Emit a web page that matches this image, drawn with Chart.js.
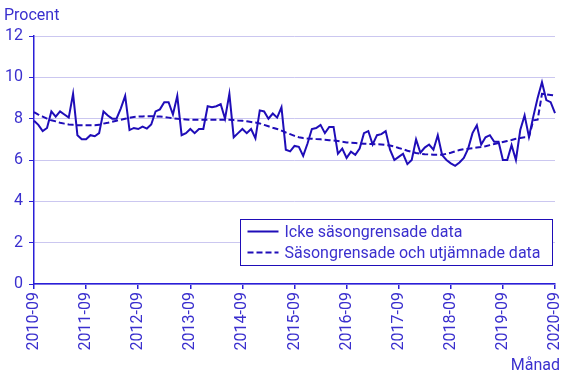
<!DOCTYPE html>
<html><head><meta charset="utf-8">
<script src="https://cdn.jsdelivr.net/npm/chart.js@4/dist/chart.umd.min.js"></script>
<style>html,body{margin:0;padding:0;background:#fff}#wrap{width:567px;height:378px}</style>
</head><body><div id="wrap"><canvas id="c" width="567" height="378"></canvas></div>
<script>
// Categories: months 2010-09 .. 2020-09
const months = [];
for (let y = 2010, m = 9; y < 2020 || (y === 2020 && m <= 9); ) {
  months.push(y + '-' + String(m).padStart(2, '0'));
  m++; if (m > 12) { m = 1; y++; }
}
const seriesNames = ['Icke säsongrensade data', 'Säsongrensade och utjämnade data'];
const rawValues = [
  7.9, 7.7, 7.4, 7.55, 8.35, 8.1, 8.35, 8.2, 8.05, 9.2, 7.2, 7.0,
  7.0, 7.2, 7.15, 7.3, 8.35, 8.15, 8.0, 8.0, 8.5, 9.1, 7.45, 7.55,
  7.5, 7.62, 7.52, 7.72, 8.35, 8.45, 8.8, 8.8, 8.2, 9.1, 7.2, 7.3,
  7.5, 7.3, 7.5, 7.5, 8.6, 8.55, 8.6, 8.7, 8.0, 9.2, 7.1, 7.3,
  7.5, 7.3, 7.5, 7.05, 8.4, 8.35, 8.0, 8.25, 8.05, 8.55, 6.5, 6.42,
  6.68, 6.64, 6.2, 6.8, 7.5, 7.55, 7.7, 7.3, 7.6, 7.6, 6.3, 6.55,
  6.1, 6.4, 6.25, 6.55, 7.3, 7.4, 6.75, 7.2, 7.25, 7.4, 6.5, 6.0,
  6.15, 6.3, 5.8, 6.0, 7.0, 6.35, 6.6, 6.75, 6.5, 7.2, 6.24, 6.0,
  5.84, 5.72, 5.88, 6.1, 6.55, 7.3, 7.68, 6.75, 7.1, 7.2, 6.88, 6.88,
  6.0, 6.0, 6.72, 6.0, 7.45, 8.16, 7.12, 8.1, 9.0, 9.76, 8.9, 8.8, 8.27
];
const smoothValues = [
  8.32, 8.2, 8.1, 8.0, 7.92, 7.87, 7.8, 7.76, 7.72, 7.7, 7.68, 7.68,
  7.68, 7.68, 7.68, 7.7, 7.76, 7.8, 7.85, 7.9, 7.95, 8.0, 8.04, 8.08,
  8.1, 8.11, 8.12, 8.12, 8.11, 8.1, 8.08, 8.05, 8.02, 8.0, 7.97, 7.96,
  7.95, 7.95, 7.95, 7.95, 7.95, 7.95, 7.95, 7.95, 7.95, 7.95, 7.93, 7.91,
  7.9, 7.87, 7.84, 7.81, 7.77, 7.7, 7.63, 7.56, 7.5, 7.42, 7.33, 7.25,
  7.17, 7.1, 7.06, 7.04, 7.03, 7.01, 7.0, 6.98, 6.96, 6.94, 6.92, 6.88,
  6.85, 6.83, 6.82, 6.8, 6.79, 6.78, 6.77, 6.76, 6.75, 6.73, 6.7, 6.65,
  6.58, 6.52, 6.45, 6.39, 6.34, 6.3, 6.28, 6.27, 6.26, 6.26, 6.26, 6.3,
  6.35, 6.42, 6.48, 6.52, 6.55, 6.57, 6.6, 6.63, 6.67, 6.72, 6.77, 6.82,
  6.87, 6.92, 6.97, 7.03, 7.07, 7.1, 7.1, 7.92, 7.95, 9.2, 9.18, 9.15, 9.12
];
const yTicks = [0, 2, 4, 6, 8, 10, 12];
const yTitle = 'Procent';
const xTitle = 'Månad';

const LINE = '#1f0db8', AXIS = '#2a1fd8', TEXT = '#3a2fce', GRID = '#cbc7f0';
const FONT = 'Roboto, "Liberation Sans", Arial, sans-serif';

const overlay = {
  id: 'overlay',
  afterDraw(chart) {
    const ctx = chart.ctx;
    ctx.save();
    ctx.fillStyle = TEXT;
    ctx.font = '16px ' + FONT;
    ctx.textBaseline = 'alphabetic';
    ctx.textAlign = 'left';
    ctx.fillText(yTitle, 4, 20);
    ctx.textAlign = 'right';
    ctx.fillText(xTitle, 560, 370);
    ctx.textAlign = 'left';
    // legend box
    const bx = 240.5, by = 219.5, bw = 312, bh = 46;
    ctx.fillStyle = '#fff';
    ctx.fillRect(bx, by, bw, bh);
    ctx.strokeStyle = LINE; ctx.lineWidth = 1;
    ctx.strokeRect(bx, by, bw, bh);
    chart.data.datasets.forEach((ds, i) => {
      const yy = by + 12 + i * 21;
      ctx.strokeStyle = ds.borderColor; ctx.lineWidth = 2;
      ctx.setLineDash(ds.borderDash || []);
      ctx.beginPath(); ctx.moveTo(bx + 7, yy); ctx.lineTo(bx + 38, yy); ctx.stroke();
      ctx.setLineDash([]);
      ctx.fillStyle = TEXT; ctx.textBaseline = 'middle';
      ctx.fillText(ds.label, bx + 44, yy + 1);
    });
    ctx.restore();
  }
};

new Chart(document.getElementById('c'), {
  type: 'line',
  data: {
    labels: months,
    datasets: [
      { label: seriesNames[0], data: rawValues, borderColor: LINE, borderWidth: 2, pointRadius: 0, tension: 0, fill: false },
      { label: seriesNames[1], data: smoothValues, borderColor: LINE, borderWidth: 2, borderDash: [6, 3], pointRadius: 0, tension: 0, fill: false }
    ]
  },
  options: {
    responsive: false,
    animation: false,
    devicePixelRatio: 1,
    layout: { padding: { left: 0, top: 36, right: 3, bottom: 0 } },
    plugins: { legend: { display: false }, tooltip: { enabled: false }, title: { display: false } },
    scales: {
      x: {
        type: 'category',
        offset: false,
        border: { display: true, color: AXIS, width: 1.5 },
        grid: {
          drawOnChartArea: false, drawTicks: true, tickLength: 5,
          color: c => (c.index % 12 === 0 ? AXIS : 'rgba(0,0,0,0)'), lineWidth: 1.5
        },
        ticks: {
          autoSkip: false, maxRotation: 90, minRotation: 90, padding: 3,
          color: TEXT, font: { family: FONT, size: 16 },
          callback: function (v, i) { return i % 12 === 0 ? this.getLabelForValue(v) : ''; }
        },
        title: { display: false },
        afterFit: s => { s.height = 94; s.paddingRight = 12; s.paddingLeft = 0; }
      },
      y: {
        min: 0, max: 12,
        afterBuildTicks: s => { s.ticks = yTicks.map(v => ({ value: v })); },
        border: { display: true, color: AXIS, width: 1.5 },
        grid: { color: GRID, lineWidth: 1, drawTicks: true, tickLength: 5, tickColor: AXIS },
        ticks: { color: TEXT, font: { family: FONT, size: 16 }, padding: 6 },
        afterFit: s => { s.width = 34; }
      }
    }
  },
  plugins: [overlay]
});
</script></body></html>
